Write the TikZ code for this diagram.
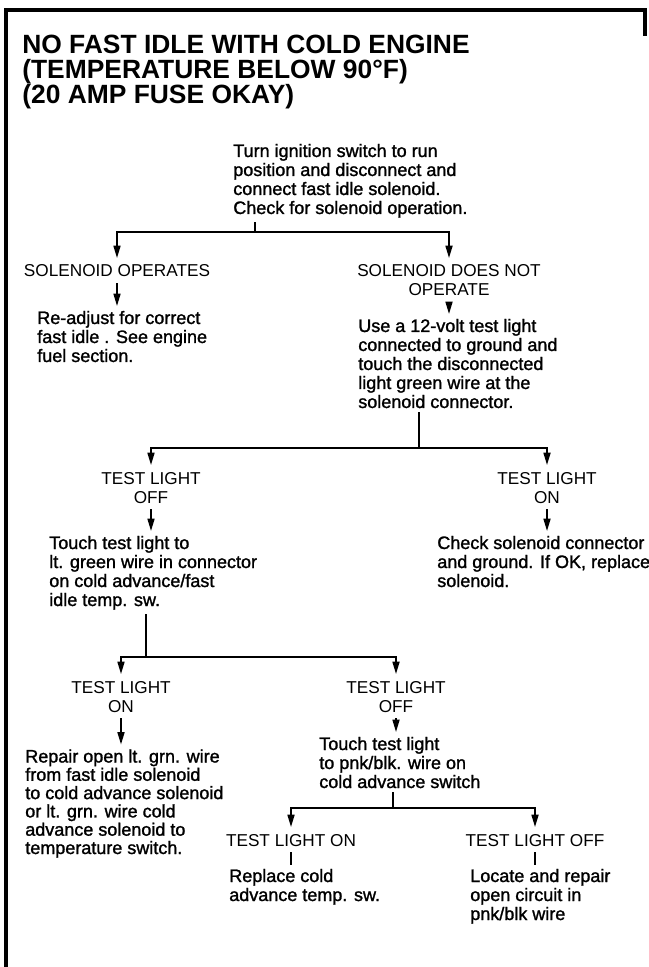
\documentclass[tikz,border=0pt]{standalone}
\usepackage{fontspec}
\setmainfont{Liberation Sans}
\newfontfamily\notefont{Liberation Sans}[FakeBold=1.4]
\usetikzlibrary{arrows.meta}

\begin{document}
\begin{tikzpicture}[x=0.5pt, y=-0.5pt, line width=1.3pt,
  tag/.style={font=\fontsize{8.6}{9.5}\selectfont, align=center, anchor=base, inner xsep=0pt, inner ysep=2.5pt},
  note/.style={font=\notefont\fontsize{9}{9.5}\selectfont, align=left, anchor=base west, inner xsep=0pt, inner ysep=1.5pt},
  arr/.style={-{Triangle[length=6.5pt,width=3.3pt]}}]
\useasboundingbox (0,0) rectangle (648,967);
% frame
\draw[line width=1.8pt] (645,36) -- (645,10) -- (6,10) -- (6,967);
% (multi-line nodes sit on the baseline of their last line)
\node[font=\bfseries\fontsize{13.2}{12.5}\selectfont, align=left, anchor=base west, inner sep=0pt] (title) at (21,104) {NO FAST IDLE WITH COLD ENGINE\\(TEMPERATURE BELOW 90°F)\\(20 AMP FUSE OKAY)};

% first check
\node[note] (q0) at (232,214) {Turn ignition switch to run\\position and disconnect and\\connect fast idle solenoid.\\Check for solenoid operation.};
\node[tag] (ops) at (117,277) {SOLENOID OPERATES};
\node[note] (adj) at (36,362) {Re-adjust for correct\\fast idle . See engine\\fuel section.};
\node[tag] (nop) at (449,296) {SOLENOID DOES NOT\\OPERATE};
\node[note] (use) at (357,408) {Use a 12-volt test light\\connected to ground and\\touch the disconnected\\light green wire at the\\solenoid connector.};

% test light at solenoid
\node[tag] (off1) at (151,503) {TEST LIGHT\\OFF};
\node[note] (tch1) at (48,606) {Touch test light to\\lt. green wire in connector\\on cold advance/fast\\idle temp. sw.};
\node[tag] (on1) at (547,503) {TEST LIGHT\\ON};
\node[note] (chk) at (436,587) {Check solenoid connector\\and ground. If OK, replace\\solenoid.};

% test light at temp. switch
\node[tag] (on2) at (121,712) {TEST LIGHT\\ON};
\node[note, font=\notefont\fontsize{9}{9.15}\selectfont] (rep) at (24,854) {Repair open lt. grn. wire\\from fast idle solenoid\\to cold advance solenoid\\or lt. grn. wire cold\\advance solenoid to\\temperature switch.};
\node[tag] (off2) at (396,712) {TEST LIGHT\\OFF};
\node[note] (tch2) at (318,788) {Touch test light\\to pnk/blk. wire on\\cold advance switch};

% pnk/blk wire
\node[tag] (on3) at (291,846) {TEST LIGHT ON};
\node[note] (rpl) at (228,901) {Replace cold\\advance temp. sw.};
\node[tag] (off3) at (535,846) {TEST LIGHT OFF};
\node[note] (loc) at (469,920) {Locate and repair\\open circuit in\\pnk/blk wire};

% connectors
\coordinate (j0) at (255,232);
\draw (q0.south -| j0) -- (j0);
\draw[arr] (j0) -| (ops.north);
\draw[arr] (j0) -| (nop.north);
\draw[arr] (ops.south) -- (ops.south |- adj.north);
\draw[arr] (nop.south) -- (nop.south |- use.north);

\coordinate (j1) at (419,448);
\draw (use.south -| j1) -- (j1);
\draw[arr] (j1) -| (off1.north);
\draw[arr] (j1) -| (on1.north);
\draw[arr] (off1.south) -- (off1.south |- tch1.north);
\draw[arr] (on1.south) -- (on1.south |- chk.north);

\coordinate (j2) at (146,657);
\draw (tch1.south -| j2) -- (j2);
\draw[arr] (j2) -| (on2.north);
\draw[arr] (j2) -| (off2.north);
\draw[arr] (on2.south) -- (on2.south |- rep.north);
\draw[arr] (off2.south) -- (off2.south |- tch2.north);

\coordinate (j3) at (393,808);
\draw (tch2.south -| j3) -- (j3);
\draw[arr] (j3) -| (on3.north);
\draw[arr] (j3) -| (off3.north);
\draw (on3.south) -- (on3.south |- rpl.north);
\draw (off3.south) -- (off3.south |- loc.north);
\end{tikzpicture}
\end{document}
